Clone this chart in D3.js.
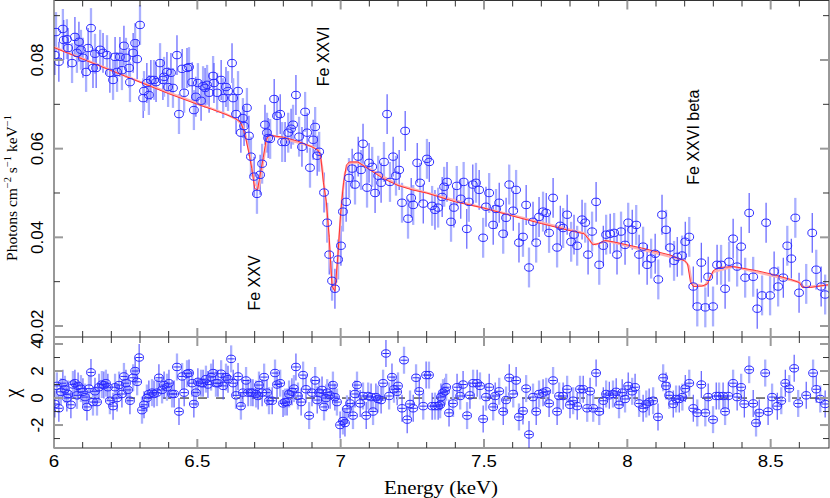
<!DOCTYPE html>
<html><head><meta charset="utf-8">
<script src="https://cdn.jsdelivr.net/npm/d3@7"></script>
<style>body{margin:0;background:#fff}svg{display:block}</style>
</head><body>
<svg id="c" width="830" height="498"></svg>
<script>
// ---- data ----
const energy = [6.003,6.007,6.017,6.031,6.034,6.045,6.049,6.063,6.073,6.080,6.087,6.094,6.101,6.112,6.119,6.129,6.136,6.143,6.147,6.161,6.171,6.185,6.195,6.206,6.213,6.220,6.230,6.237,6.244,6.251,6.262,6.265,6.276,6.283,6.290,6.300,6.311,6.314,6.324,6.331,6.338,6.349,6.356,6.370,6.380,6.384,6.394,6.398,6.408,6.415,6.429,6.436,6.447,6.454,6.464,6.471,6.482,6.488,6.495,6.502,6.513,6.520,6.527,6.534,6.541,6.555,6.558,6.569,6.583,6.590,6.600,6.607,6.621,6.625,6.635,6.642,6.652,6.659,6.663,6.673,6.680,6.687,6.698,6.708,6.719,6.726,6.736,6.743,6.747,6.754,6.768,6.778,6.789,6.796,6.806,6.817,6.827,6.834,6.844,6.855,6.865,6.876,6.883,6.893,6.904,6.911,6.918,6.925,6.942,6.953,6.960,6.970,6.980,6.991,7.001,7.008,7.019,7.029,7.040,7.050,7.061,7.071,7.078,7.092,7.099,7.110,7.120,7.131,7.141,7.151,7.162,7.172,7.183,7.193,7.204,7.214,7.225,7.235,7.246,7.253,7.267,7.277,7.288,7.301,7.309,7.319,7.329,7.340,7.354,7.361,7.371,7.385,7.395,7.405,7.419,7.429,7.440,7.447,7.461,7.472,7.483,7.497,7.507,7.518,7.532,7.542,7.553,7.567,7.577,7.588,7.602,7.612,7.622,7.636,7.647,7.657,7.671,7.682,7.692,7.706,7.717,7.727,7.741,7.755,7.766,7.776,7.790,7.804,7.814,7.825,7.842,7.853,7.863,7.877,7.891,7.902,7.916,7.926,7.940,7.954,7.964,7.978,7.992,8.003,8.017,8.031,8.041,8.055,8.069,8.083,8.097,8.108,8.121,8.135,8.149,8.163,8.174,8.191,8.202,8.216,8.230,8.244,8.258,8.272,8.282,8.299,8.313,8.327,8.341,8.355,8.369,8.383,8.397,8.411,8.425,8.439,8.453,8.470,8.484,8.498,8.512,8.526,8.544,8.558,8.572,8.586,8.599,8.624,8.645,8.659,8.676,8.690];
const flux = [0.0811,0.0863,0.0796,0.0870,0.0845,0.0847,0.0827,0.0793,0.0852,0.0816,0.0841,0.0823,0.0805,0.0773,0.0827,0.0872,0.0782,0.0814,0.0782,0.0823,0.0816,0.0811,0.0771,0.0755,0.0807,0.0773,0.0807,0.0777,0.0832,0.0805,0.0782,0.0750,0.0816,0.0838,0.0802,0.0879,0.0714,0.0730,0.0748,0.0721,0.0755,0.0755,0.0750,0.0793,0.0755,0.0762,0.0773,0.0739,0.0771,0.0737,0.0811,0.0678,0.0780,0.0726,0.0782,0.0784,0.0750,0.0687,0.0717,0.0748,0.0708,0.0741,0.0737,0.0744,0.0726,0.0764,0.0748,0.0726,0.0755,0.0714,0.0739,0.0730,0.0793,0.0714,0.0678,0.0730,0.0636,0.0669,0.0651,0.0692,0.0629,0.0582,0.0537,0.0498,0.0541,0.0566,0.0654,0.0636,0.0624,0.0622,0.0712,0.0674,0.0678,0.0615,0.0615,0.0636,0.0645,0.0654,0.0721,0.0627,0.0604,0.0683,0.0636,0.0557,0.0620,0.0649,0.0584,0.0593,0.0501,0.0433,0.0361,0.0302,0.0284,0.0350,0.0381,0.0458,0.0480,0.0534,0.0555,0.0519,0.0582,0.0552,0.0611,0.0512,0.0568,0.0559,0.0500,0.0539,0.0523,0.0570,0.0678,0.0525,0.0582,0.0539,0.0552,0.0478,0.0640,0.0442,0.0489,0.0473,0.0568,0.0523,0.0476,0.0577,0.0570,0.0471,0.0462,0.0467,0.0491,0.0514,0.0525,0.0435,0.0467,0.0516,0.0487,0.0525,0.0419,0.0480,0.0519,0.0523,0.0507,0.0399,0.0469,0.0500,0.0428,0.0464,0.0478,0.0408,0.0444,0.0519,0.0460,0.0507,0.0388,0.0401,0.0473,0.0332,0.0435,0.0388,0.0446,0.0458,0.0455,0.0410,0.0489,0.0377,0.0426,0.0421,0.0451,0.0390,0.0406,0.0381,0.0440,0.0433,0.0361,0.0413,0.0480,0.0338,0.0381,0.0406,0.0408,0.0410,0.0361,0.0413,0.0383,0.0433,0.0417,0.0428,0.0361,0.0379,0.0338,0.0352,0.0363,0.0305,0.0451,0.0417,0.0377,0.0347,0.0356,0.0359,0.0390,0.0401,0.0289,0.0244,0.0343,0.0242,0.0311,0.0244,0.0338,0.0338,0.0284,0.0345,0.0397,0.0334,0.0379,0.0309,0.0455,0.0311,0.0239,0.0269,0.0433,0.0269,0.0323,0.0289,0.0309,0.0381,0.0352,0.0444,0.0275,0.0295,0.0410,0.0327,0.0289,0.0271];
const fluxErr = 0.0045;

const resEnergy = [6.003,6.010,6.017,6.024,6.031,6.038,6.045,6.049,6.059,6.066,6.073,6.080,6.084,6.094,6.101,6.108,6.115,6.122,6.129,6.136,6.143,6.150,6.157,6.167,6.174,6.181,6.188,6.195,6.206,6.213,6.220,6.227,6.237,6.244,6.251,6.258,6.265,6.276,6.283,6.290,6.297,6.307,6.314,6.324,6.331,6.342,6.349,6.359,6.366,6.377,6.384,6.394,6.401,6.412,6.419,6.429,6.436,6.447,6.454,6.464,6.471,6.482,6.488,6.495,6.502,6.513,6.520,6.530,6.537,6.548,6.555,6.565,6.572,6.583,6.590,6.600,6.607,6.618,6.625,6.635,6.642,6.652,6.659,6.670,6.677,6.687,6.694,6.705,6.712,6.715,6.726,6.733,6.743,6.750,6.761,6.771,6.778,6.789,6.799,6.806,6.813,6.820,6.830,6.837,6.844,6.851,6.862,6.869,6.879,6.890,6.900,6.911,6.918,6.925,6.935,6.942,6.949,6.953,6.963,6.973,6.980,6.987,6.998,7.008,7.015,7.022,7.033,7.043,7.050,7.057,7.068,7.078,7.089,7.096,7.106,7.113,7.123,7.130,7.141,7.148,7.158,7.169,7.179,7.186,7.197,7.200,7.214,7.221,7.232,7.242,7.253,7.263,7.274,7.288,7.298,7.308,7.319,7.329,7.340,7.347,7.350,7.357,7.364,7.368,7.378,7.392,7.406,7.417,7.427,7.441,7.451,7.462,7.476,7.486,7.497,7.507,7.518,7.532,7.539,7.553,7.567,7.577,7.588,7.602,7.612,7.622,7.636,7.647,7.657,7.671,7.682,7.692,7.706,7.717,7.727,7.741,7.755,7.762,7.776,7.790,7.800,7.811,7.825,7.835,7.846,7.860,7.870,7.881,7.891,7.902,7.916,7.926,7.937,7.950,7.961,7.971,7.982,7.992,8.003,8.017,8.027,8.041,8.055,8.066,8.076,8.090,8.107,8.125,8.135,8.146,8.160,8.170,8.181,8.192,8.202,8.216,8.230,8.244,8.258,8.272,8.282,8.299,8.310,8.320,8.334,8.341,8.352,8.369,8.383,8.397,8.408,8.425,8.439,8.449,8.460,8.481,8.491,8.505,8.523,8.537,8.551,8.565,8.582,8.596,8.624,8.648,8.659,8.673,8.690];
const chi = [-0.44,0.9,-0.76,0.46,1.1,0.65,0,0.3,-0.5,1.0,1.1,0.2,0.9,0.7,0.46,0.07,-0.66,0.7,1.9,-0.3,0.5,-0.3,0.8,1.0,0.96,1.1,0.8,-0.2,-0.6,0.8,0,0.96,0.3,1.6,1.1,0.6,-0.2,1.5,2.0,1.2,3.0,-0.9,-0.5,0,0.3,0.4,0.3,0.4,1.5,0.6,0.96,0.8,1.1,0.3,0.3,2.3,-1.0,1.6,0.4,1.8,1.85,1.1,-0.44,0.4,1.2,1.1,1.1,1.4,1.0,1.55,1.85,1.1,1.1,1.8,0.9,1.55,1.4,2.9,1.1,0.2,1.6,-0.6,0.4,1.3,0.4,0.4,0.4,0.3,0.15,0.96,0.4,1.55,0.4,-0.2,-0.2,1.85,1.0,1.1,-0.4,-0.3,-0.3,0.3,0.46,0.7,2.3,0.15,-0.3,1.7,0.65,-1.3,0.4,1.3,-0.15,0.4,0.6,-0.66,0,0.4,0.2,0.96,0.07,-0.3,-2.0,-1.7,-1.85,-0.8,-0.4,-1.3,0.3,0.96,-0.4,0.15,-1.3,0.15,0.07,-1.0,0.07,-0.07,-0.15,1.1,3.3,0.15,1.55,0.65,0.46,0.9,-0.76,2.8,-1.6,-0.44,-0.76,1.5,0.5,-0.6,1.7,1.7,-0.6,-0.6,-0.6,-0.5,0.07,0.4,0.5,0.8,-1.1,-0.4,0.8,0.15,1.0,-1.3,0.2,1.1,1.1,0.9,-1.55,0.07,0.8,-0.66,0.15,0.5,-1.0,-0.15,1.5,0.3,1.3,-1.4,-0.96,0.7,-2.7,0.07,-1.0,0.3,0.4,0.5,-0.4,1.3,-1.0,0.15,0.15,0.65,-0.5,-0.2,-0.6,0.65,0.65,-0.76,0.5,-0.76,1.85,-1.0,-0.2,0.3,0.2,0.3,0.46,-0.5,0.4,-0.07,0.9,0.5,0.8,-0.4,-0.76,-0.44,-0.3,-0.2,-1.4,1.5,0.9,0.2,-0.44,-0.07,-0.07,0.07,0.7,1.1,-0.76,-1.1,1.0,-1.1,0.07,-1.6,0.15,0.15,0.15,-1.0,0.15,1.1,0.07,0.8,-0.44,2.1,-0.4,-1.85,-1.1,1.85,-1.0,0.07,-0.6,-0.2,1.1,0.7,2.2,-0.4,0.2,1.85,0.65,-0.07,-0.44];
const chiErr = 1;

const modelE = [6.00,6.05,6.10,6.15,6.20,6.25,6.30,6.35,6.40,6.45,6.50,6.55,6.60,6.63,6.65,6.66,6.67,6.68,6.69,6.70,6.71,6.72,6.73,6.74,6.75,6.80,6.85,6.90,6.92,6.93,6.94,6.95,6.96,6.97,6.98,6.99,7.00,7.01,7.02,7.03,7.06,7.10,7.15,7.20,7.25,7.30,7.40,7.50,7.60,7.70,7.80,7.85,7.87,7.88,7.90,7.92,7.95,8.00,8.05,8.10,8.15,8.20,8.21,8.22,8.23,8.26,8.28,8.29,8.30,8.32,8.37,8.45,8.51,8.57,8.60,8.61,8.64,8.66,8.70];
const modelF = [0.0828,0.0815,0.0802,0.0789,0.0776,0.0763,0.0750,0.0737,0.0724,0.0712,0.0700,0.0689,0.0677,0.0669,0.0660,0.0645,0.0620,0.0590,0.0555,0.0510,0.0507,0.0545,0.0580,0.0620,0.0630,0.0626,0.0617,0.0604,0.0597,0.0585,0.0523,0.0480,0.0400,0.0290,0.0278,0.0356,0.0455,0.0523,0.0563,0.0570,0.0570,0.0553,0.0532,0.0517,0.0507,0.0500,0.0480,0.0466,0.0448,0.0431,0.0415,0.0408,0.0392,0.0383,0.0386,0.0393,0.0390,0.0383,0.0376,0.0368,0.0360,0.0347,0.0340,0.0300,0.0289,0.0290,0.0295,0.0311,0.0325,0.0332,0.0334,0.0325,0.0316,0.0305,0.0298,0.0287,0.0287,0.0289,0.0293];
const model2E = [6.00,6.30,6.60,6.64,6.66,6.67,6.68,6.69,6.70,6.715,6.725,6.735,6.745,6.76,6.90,6.925,6.935,6.945,6.955,6.965,6.975,6.985,6.995,7.005,7.015,7.03,7.06,7.20,7.50,7.85,7.875,7.89,7.93,8.20,8.215,8.225,8.27,8.30,8.37,8.60,8.615,8.70];
const model2F = [0.0829,0.0751,0.0678,0.0665,0.0650,0.0625,0.0595,0.0560,0.0520,0.0512,0.0550,0.0590,0.0625,0.0630,0.0605,0.0595,0.0560,0.0500,0.0440,0.0330,0.0282,0.0300,0.0400,0.0490,0.0545,0.0568,0.0569,0.0518,0.0466,0.0409,0.0388,0.0384,0.0392,0.0348,0.0335,0.0295,0.0290,0.0322,0.0334,0.0299,0.0288,0.0292];

const xMajor = [6,6.5,7,7.5,8,8.5];
const xLabels = ['6','6.5','7','7.5','8','8.5'];
const xMinor = [6.1,6.2,6.3,6.4,6.6,6.7,6.8,6.9,7.1,7.2,7.3,7.4,7.6,7.7,7.8,7.9,8.1,8.2,8.3,8.4,8.6];
const yMajor = [0.02,0.04,0.06,0.08];
const yLabels = ['0.02','0.04','0.06','0.08'];
const yMinor = [0.03,0.05,0.07,0.09];
const rMajor = [-2,0,2,4];
const rLabels = ['-2','0','2','4'];
const rMinor = [-3,-1,1,3];
const lines = [
  {text:'Fe XXV', e:6.72, f:0.0297},
  {text:'Fe XXVI', e:6.96, f:0.0808},
  {text:'Fe XXVI beta', e:8.25, f:0.0626}
];

// ---- layout ----
const L = 54, R = 829, TOP = 0.5, MB = 337, RB = 448;
const x = d3.scaleLinear().domain([6, 8.7]).range([L, 828]);
const y = d3.scaleLinear().domain([0.01752, 0.09353]).range([MB, 0]);
const yr = d3.scaleLinear().domain([-3.70, 4.52]).range([RB, MB]);

const svg = d3.select('#c');
const defs = svg.append('defs');
defs.append('clipPath').attr('id','cm').append('rect').attr('x',L).attr('y',0).attr('width',R-L).attr('height',MB);
defs.append('clipPath').attr('id','cr').append('rect').attr('x',L).attr('y',MB).attr('width',R-L).attr('height',RB-MB);

const BLUE = '#2a2aff', DARK = '#5050ff', LIGHT = '#aab0ff';
const pts = energy.map((e,i)=>({e, f:flux[i], i}));
const rpts = resEnergy.map((e,i)=>({e, c:chi[i], i}));

// main panel
const gm = svg.append('g').attr('clip-path','url(#cm)');
gm.selectAll('line.eb').data(pts).join('line')
  .attr('x1',d=>x(d.e)).attr('x2',d=>x(d.e))
  .attr('y1',d=>y(d.f-fluxErr)).attr('y2',d=>y(d.f+fluxErr))
  .attr('stroke',d=>d.i%2?LIGHT:DARK).attr('stroke-width',d=>d.i%2?2.3:1.1);
const line = d3.line().x((d,i)=>x(d[0])).y(d=>y(d[1]));
gm.append('path').attr('d', line(model2E.map((e,i)=>[e,model2F[i]])))
  .attr('fill','none').attr('stroke','#ffb0b0').attr('stroke-width',2.2);
gm.append('path').attr('d', line(modelE.map((e,i)=>[e,modelF[i]])))
  .attr('fill','none').attr('stroke','#ff3030').attr('stroke-width',1);
gm.selectAll('ellipse').data(pts).join('ellipse')
  .attr('cx',d=>x(d.e)).attr('cy',d=>y(d.f)).attr('rx',4.4).attr('ry',3.7)
  .attr('fill','none').attr('stroke',BLUE).attr('stroke-width',1);

// residual panel
const gr = svg.append('g').attr('clip-path','url(#cr)');
gr.append('line').attr('x1',L).attr('x2',R).attr('y1',yr(0)).attr('y2',yr(0))
  .attr('stroke','#000').attr('stroke-width',1).attr('stroke-dasharray','9,9');
gr.selectAll('line.eb').data(rpts).join('line')
  .attr('x1',d=>x(d.e)).attr('x2',d=>x(d.e))
  .attr('y1',d=>yr(d.c-chiErr)).attr('y2',d=>yr(d.c+chiErr))
  .attr('stroke',d=>d.i%2?LIGHT:DARK).attr('stroke-width',d=>d.i%2?2.3:1.1);
gr.selectAll('line.xe').data(rpts).join('line')
  .attr('x1',d=>x(d.e)-3.5).attr('x2',d=>x(d.e)+3.5)
  .attr('y1',d=>yr(d.c)).attr('y2',d=>yr(d.c))
  .attr('stroke',BLUE).attr('stroke-width',1);
gr.selectAll('ellipse').data(rpts).join('ellipse')
  .attr('cx',d=>x(d.e)).attr('cy',d=>yr(d.c)).attr('rx',4.4).attr('ry',3.7)
  .attr('fill','none').attr('stroke',BLUE).attr('stroke-width',1);

// frame
const fr = svg.append('g').attr('stroke','#333').attr('stroke-width',1).attr('fill','none');
fr.append('rect').attr('x',L).attr('y',TOP).attr('width',R-L).attr('height',RB-TOP);
fr.append('line').attr('x1',L).attr('x2',R).attr('y1',MB).attr('y2',MB);

// ticks
const tk = svg.append('g');
function tick(x1,y1,x2,y2,major){
  tk.append('line').attr('x1',x1).attr('y1',y1).attr('x2',x2).attr('y2',y2)
    .attr('stroke',major?'#9a9a9a':'#333').attr('stroke-width',major?2:1);
}
const MJ = 9, MN = 6;
[[xMajor,true],[xMinor,false]].forEach(([arr,mj])=>{
  const len = mj?MJ:MN;
  arr.forEach(v=>{
    const px = x(v);
    tick(px,TOP,px,TOP+len,mj);
    tick(px,MB-len,px,MB,mj);
    tick(px,MB,px,MB+len,mj);
    tick(px,RB-len,px,RB,mj);
  });
});
[[yMajor,true],[yMinor,false]].forEach(([arr,mj])=>{
  const len = mj?MJ:MN;
  arr.forEach(v=>{ const py=y(v); tick(L,py,L+len,py,mj); tick(R-len,py,R,py,mj); });
});
[[rMajor,true],[rMinor,false]].forEach(([arr,mj])=>{
  const len = mj?MJ:MN;
  arr.forEach(v=>{ const py=yr(v); tick(L,py,L+len,py,mj); tick(R-len,py,R,py,mj); });
});

// tick labels
const SANS = 'Liberation Sans, Arial, Helvetica, sans-serif';
const SERIF = 'Liberation Serif, Times New Roman, serif';
xMajor.forEach((v,i)=>{
  svg.append('text').attr('transform',`translate(${x(v)},467) scale(1.1,1)`)
    .attr('text-anchor','middle').attr('font-family',SANS).attr('font-size',17)
    .attr('fill','#000').text(xLabels[i]);
});
yMajor.forEach((v,i)=>{
  svg.append('text').attr('transform',`translate(43,${y(v)}) rotate(-90)`)
    .attr('text-anchor','middle').attr('font-family',SANS).attr('font-size',17)
    .attr('fill','#000').text(yLabels[i]);
});
rMajor.forEach((v,i)=>{
  svg.append('text').attr('transform',`translate(43,${yr(v)}) rotate(-90)`)
    .attr('text-anchor','middle').attr('font-family',SANS).attr('font-size',17)
    .attr('fill','#000').text(rLabels[i]);
});

// axis titles
svg.append('text').attr('transform','translate(441,494) scale(1.1,1)')
  .attr('text-anchor','middle').attr('font-family',SERIF).attr('font-size',19)
  .attr('fill','#000').text('Energy (keV)');
const yt = svg.append('text').attr('transform','translate(17,188) rotate(-90)')
  .attr('text-anchor','middle').attr('font-family',SERIF).attr('font-size',15.5).attr('fill','#000');
yt.append('tspan').text('Photons cm');
yt.append('tspan').attr('dy',-6).attr('font-size',10.5).text('\u22122');
yt.append('tspan').attr('dy',6).text(' s');
yt.append('tspan').attr('dy',-6).attr('font-size',10.5).text('\u22121');
yt.append('tspan').attr('dy',6).text(' keV');
yt.append('tspan').attr('dy',-6).attr('font-size',10.5).text('\u22121');
svg.append('text').attr('transform','translate(19,393) rotate(-90)')
  .attr('text-anchor','middle').attr('font-family',SERIF).attr('font-size',20)
  .attr('fill','#000').text('\u03c7');

// line annotations
lines.forEach(d=>{
  svg.append('text').attr('transform',`translate(${x(d.e)},${y(d.f)}) rotate(-90)`)
    .attr('text-anchor','middle').attr('font-family',SANS).attr('font-size',16)
    .attr('fill','#000').text(d.text);
});
</script>
</body></html>
